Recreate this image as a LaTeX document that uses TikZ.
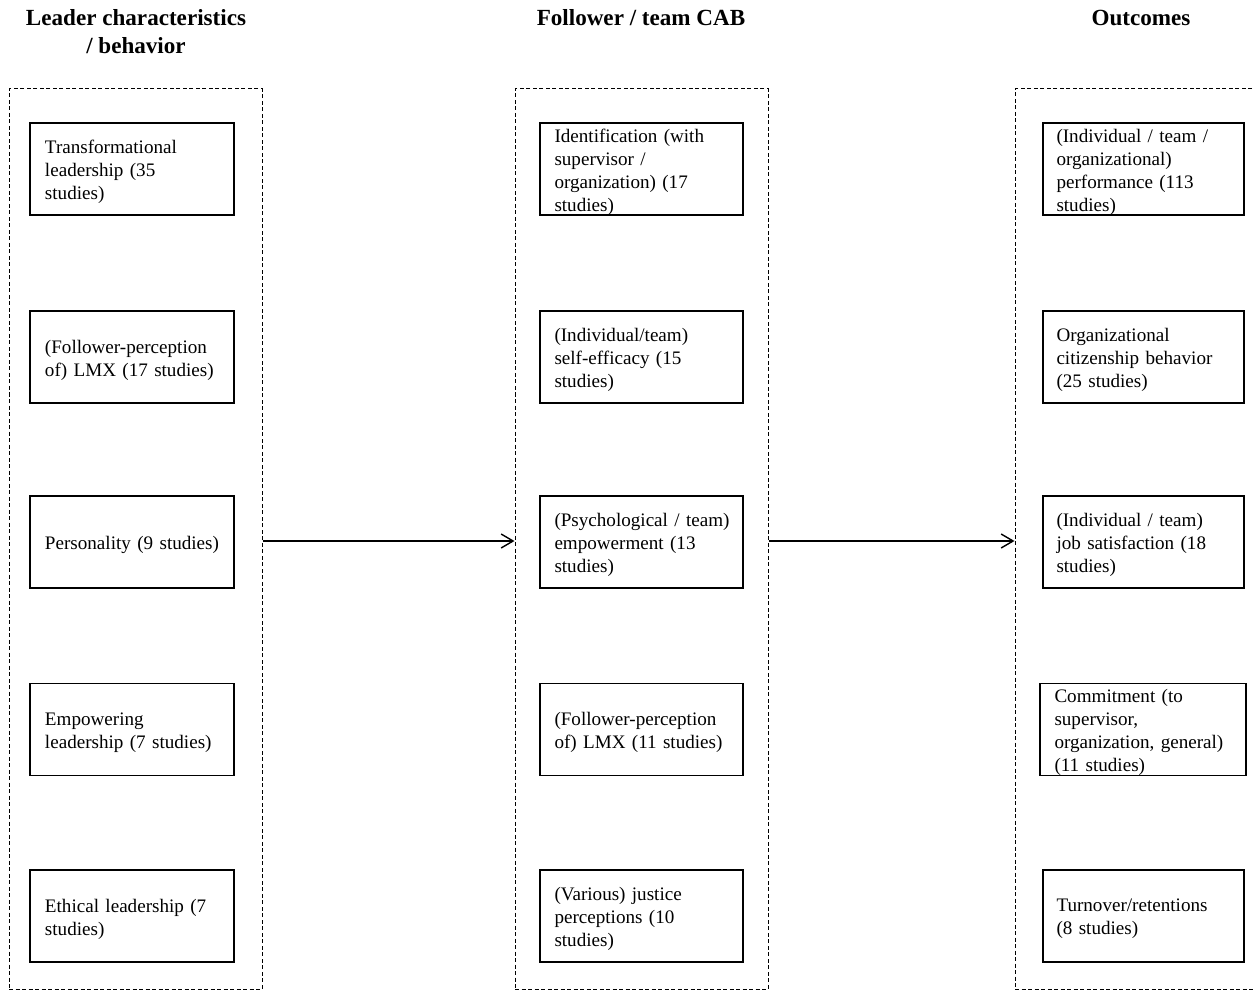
\documentclass[tikz,border=0pt]{standalone}
\usepackage{fontspec}
\setmainfont{Liberation Serif}
\usetikzlibrary{arrows.meta}
\newcommand\mkcell[5][176pt]{%
  \node[cellbox,minimum width=#3] (#2) at (#4) {};
  \node[celltext,text width=#1] (#2t) at ([xshift=1pt,yshift=-3pt]#2.center) {#5};}
\begin{document}
\begin{tikzpicture}[x=1pt,y=-1pt,
  cellbox/.style={draw,line width=1.4pt,rectangle,minimum height=92pt,inner sep=0pt},
  celltext/.style={inner sep=0pt,align=left,font=\fontsize{19.1}{23}\selectfont},
  group/.style={draw,line width=1pt,dash pattern=on 4pt off 2.5pt,rectangle,inner sep=0pt,minimum height=900pt},
  title/.style={align=center,font=\fontsize{23.1}{28}\selectfont\bfseries},
  flow/.style={line width=1.2pt,-{Straight Barb[length=12pt,width=14pt,line width=1.4pt]}}
]
\useasboundingbox (0,0) rectangle (1254,990);
\clip (0,0) rectangle (1254,990);
% titles
\node[title] (t1) at (136,32) {Leader characteristics\\/ behavior};
\node[title] (t2) at (641,18) {Follower / team CAB};
\node[title] (t3) at (1141,18) {Outcomes};
% groups
\node[group,minimum width=253pt] (g1) at (135.5,539) {};
\node[group,minimum width=253pt] (g2) at (641.5,539) {};
\node[group,minimum width=260pt] (g3) at (1145,539) {};
% left column
\mkcell{l1}{204pt}{132,169}{Transformational\\leadership (35\\studies)}
\mkcell{l2}{204pt}{132,357}{(Follower-perception\\of) LMX (17 studies)}
\mkcell{l3}{204pt}{132,542}{Personality (9 studies)}
\mkcell{l4}{204pt}{132,729.5}{Empowering\\leadership (7 studies)}
\mkcell{l5}{204pt}{132,916}{Ethical leadership (7\\studies)}
% middle column
\mkcell{m1}{203pt}{641.5,169}{Identification (with\\supervisor /\\organization) (17\\studies)}
\mkcell{m2}{203pt}{641.5,357}{(Individual/team)\\self-efficacy (15\\studies)}
\mkcell{m3}{203pt}{641.5,542}{(Psychological / team)\\empowerment (13\\studies)}
\mkcell{m4}{203pt}{641.5,729.5}{(Follower-perception\\of) LMX (11 studies)}
\mkcell{m5}{203pt}{641.5,916}{(Various) justice\\perceptions (10\\studies)}
% right column
\mkcell{r1}{201pt}{1143.5,169}{(Individual / team /\\organizational)\\performance (113\\studies)}
\mkcell{r2}{201pt}{1143.5,357}{Organizational\\citizenship behavior\\(25 studies)}
\mkcell{r3}{201pt}{1143.5,542}{(Individual / team)\\job satisfaction (18\\studies)}
\mkcell[179pt]{r4}{206pt}{1143,729.5}{Commitment (to\\supervisor,\\organization, general)\\(11 studies)}
\mkcell{r5}{201pt}{1143.5,916}{Turnover/retentions\\(8 studies)}
% connectors
\draw[flow] ([yshift=-2pt]g1.east) -- ([yshift=-2pt]g2.west);
\draw[flow] ([yshift=-2pt]g2.east) -- ([yshift=-2pt]g3.west);
\end{tikzpicture}
\end{document}
